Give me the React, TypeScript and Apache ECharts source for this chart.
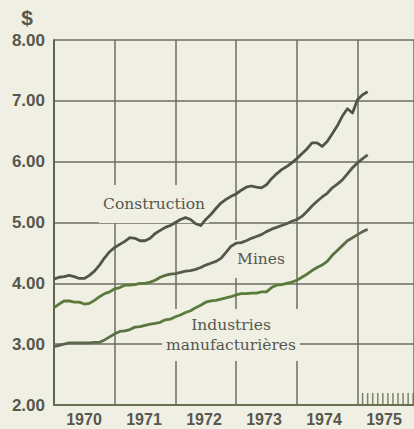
import React, { useEffect, useRef } from "react";
import * as echarts from "echarts";

const startYear = 1970;
const yearLabels = ["1970", "1971", "1972", "1973", "1974", "1975"];
const yTicks = [2, 3, 4, 5, 6, 7, 8];
const tickMonths1975 = [1, 2, 3, 4, 5, 6, 7, 8, 9, 10, 11];

const construction = [
  4.07, 4.10, 4.11, 4.13, 4.11, 4.08, 4.08, 4.13, 4.20, 4.30,
  4.42, 4.52, 4.59, 4.64, 4.69, 4.75, 4.74, 4.70, 4.70, 4.74,
  4.82, 4.87, 4.92, 4.95, 5.00, 5.05, 5.08, 5.05, 4.98, 4.95,
  5.05, 5.13, 5.23, 5.32, 5.38, 5.43, 5.47, 5.53, 5.58, 5.60,
  5.58, 5.57, 5.62, 5.72, 5.80, 5.87, 5.92, 5.98, 6.05, 6.13,
  6.21, 6.31, 6.31, 6.25, 6.33, 6.46, 6.59, 6.75, 6.87, 6.80,
  7.02, 7.10, 7.15,
];

const mines = [
  3.60, 3.66, 3.71, 3.71, 3.69, 3.69, 3.66, 3.67, 3.72, 3.78,
  3.83, 3.86, 3.91, 3.93, 3.97, 3.97, 3.98, 4.00, 4.00, 4.02,
  4.05, 4.10, 4.13, 4.15, 4.16, 4.18, 4.20, 4.21, 4.23, 4.26,
  4.30, 4.33, 4.36, 4.41, 4.51, 4.61, 4.66, 4.67, 4.70, 4.74,
  4.77, 4.80, 4.85, 4.89, 4.92, 4.95, 4.98, 5.02, 5.05, 5.10,
  5.18, 5.27, 5.35, 5.42, 5.48, 5.57, 5.63, 5.70, 5.80, 5.90,
  5.98, 6.05, 6.11,
];

const manufacturing = [
  2.96, 2.98, 3.00, 3.02, 3.02, 3.02, 3.02, 3.02, 3.03, 3.03,
  3.07, 3.12, 3.17, 3.21, 3.22, 3.24, 3.28, 3.29, 3.31, 3.33,
  3.34, 3.36, 3.40, 3.41, 3.45, 3.48, 3.52, 3.55, 3.60, 3.64,
  3.69, 3.71, 3.72, 3.74, 3.76, 3.78, 3.81, 3.83, 3.83, 3.84,
  3.84, 3.86, 3.86, 3.93, 3.97, 3.98, 4.00, 4.02, 4.05, 4.10,
  4.15, 4.21, 4.26, 4.30, 4.36, 4.46, 4.54, 4.62, 4.70, 4.75,
  4.80, 4.85, 4.89,
];

const BG = "#f0efe3";
const GRID = "#6c6d60";
const TEXT = "#56574f";
const SERIF = "'DejaVu Serif', serif";
const SANS = "'Liberation Sans', Arial, sans-serif";

const toPoints = (vals: number[]) => vals.map((v, i) => [startYear + i / 12, v]);

export default function App() {
  const ref = useRef<HTMLDivElement>(null);
  useEffect(() => {
    if (!ref.current) return;
    const chart = echarts.init(ref.current, null, { renderer: "svg" });
    const labelStyle = (text: string) => ({
      text,
      font: `15.5px ${SERIF}`,
      fill: TEXT,
      align: "center",
      textAlign: "center",
      verticalAlign: "middle",
      textVerticalAlign: "middle",
      backgroundColor: BG,
      lineHeight: 20,
    });
    chart.setOption({
      animation: false,
      backgroundColor: BG,
      grid: { left: 54, top: 40, right: 0, bottom: 24, containLabel: false },
      xAxis: [
        {
          type: "value",
          min: 1970,
          max: 1975.93,
          interval: 1,
          z: 0,
          axisLine: { show: true, lineStyle: { color: "#667350", width: 2 } },
          axisTick: { show: false },
          axisLabel: { show: false },
          splitLine: { show: true, lineStyle: { color: GRID, width: 1.5 } },
        },
        {
          type: "category",
          data: yearLabels,
          position: "bottom",
          boundaryGap: true,
          axisLine: { show: false },
          axisTick: { show: false },
          splitLine: { show: false },
          axisLabel: {
            margin: 6,
            color: TEXT,
            fontFamily: SANS,
            fontWeight: "bold",
            fontSize: 16,
          },
        },
      ],
      yAxis: {
        type: "value",
        min: yTicks[0],
        max: yTicks[yTicks.length - 1],
        interval: 1,
        z: 0,
        axisLine: { show: true, lineStyle: { color: "#62654f", width: 2 } },
        axisTick: { show: false },
        axisLabel: {
          margin: 9,
          color: TEXT,
          fontFamily: SANS,
          fontWeight: "bold",
          fontSize: 17,
          formatter: (v: number) => v.toFixed(2),
        },
        splitLine: { show: true, lineStyle: { color: GRID, width: 1.5 } },
      },
      series: [
        {
          type: "line",
          name: "Construction",
          data: toPoints(construction),
          symbol: "none",
          z: 5,
          lineStyle: { color: "#52544a", width: 2.8, join: "round" },
        },
        {
          type: "line",
          name: "Mines",
          data: toPoints(mines),
          symbol: "none",
          z: 5,
          lineStyle: {
            width: 2.8,
            join: "round",
            color: new echarts.graphic.LinearGradient(0, 0, 1, 0, [
              { offset: 0, color: "#5b7a3a" },
              { offset: 0.3, color: "#5b7a3a" },
              { offset: 0.42, color: "#56584d" },
              { offset: 1, color: "#56584d" },
            ]),
          },
        },
        {
          type: "line",
          name: "Industries manufacturières",
          data: toPoints(manufacturing),
          symbol: "none",
          z: 5,
          lineStyle: {
            width: 2.8,
            join: "round",
            color: new echarts.graphic.LinearGradient(0, 0, 1, 0, [
              { offset: 0, color: "#5b6350" },
              { offset: 0.38, color: "#5a7c38" },
              { offset: 0.76, color: "#5a7c38" },
              { offset: 1, color: "#5b6650" },
            ]),
          },
        },
        {
          type: "scatter",
          data: tickMonths1975.map((m) => [1975 + m / 12, yTicks[0]]),
          symbol: "rect",
          symbolSize: [1.5, 12],
          symbolOffset: [0, -6],
          itemStyle: { color: "#5f6a4a" },
          silent: true,
          z: 4,
        },
      ],
      graphic: {
        z: 1,
        elements: [
          {
            type: "text",
            x: 27,
            y: 17,
            z: 1,
            style: {
              text: "$",
              font: `bold 21px ${SANS}`,
              fill: TEXT,
              align: "center",
              textAlign: "center",
              verticalAlign: "middle",
              textVerticalAlign: "middle",
            },
          },
          {
            type: "text",
            x: 154,
            y: 204,
            z: 1,
            style: { ...labelStyle("Construction"), padding: [9, 4] },
          },
          {
            type: "text",
            x: 261,
            y: 259,
            z: 1,
            style: { ...labelStyle("Mines"), padding: [9, 7] },
          },
          {
            type: "text",
            x: 231,
            y: 335,
            z: 1,
            style: { ...labelStyle("Industries\nmanufacturières"), padding: [6, 4] },
          },
        ],
      },
    });
    return () => chart.dispose();
  }, []);
  return (
    <div
      ref={ref}
      style={{ position: "fixed", left: 0, top: 0, width: 414, height: 429 }}
    />
  );
}
